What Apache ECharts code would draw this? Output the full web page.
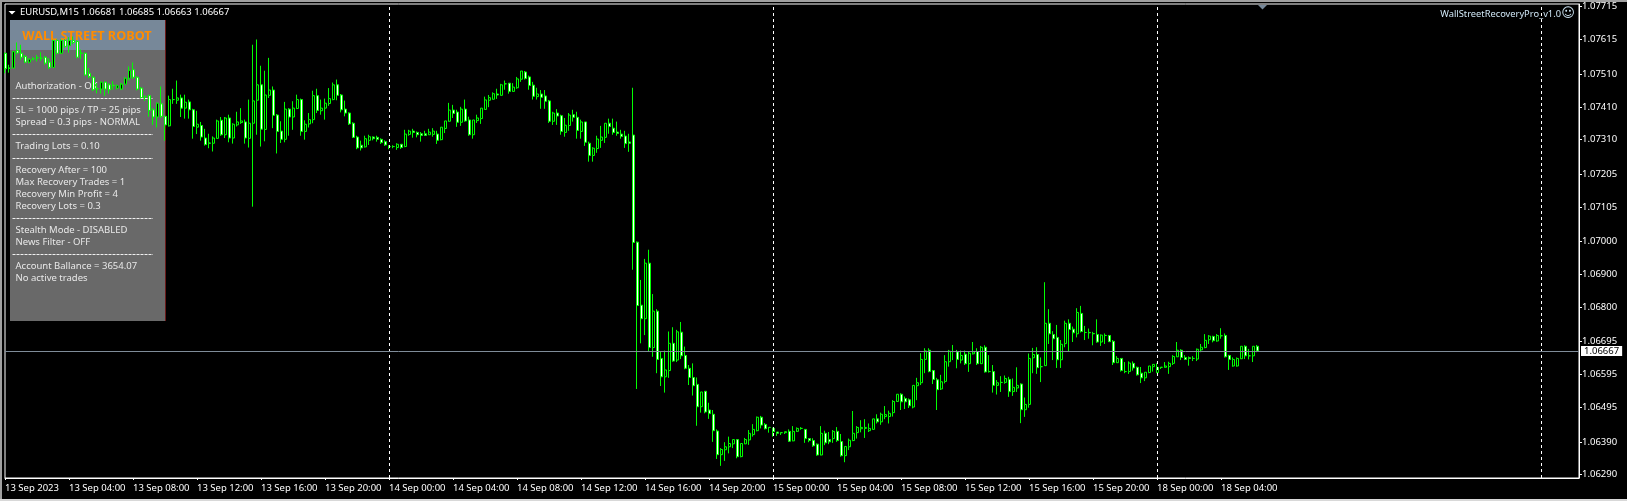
<!DOCTYPE html>
<html><head><meta charset="utf-8">
<style>html,body{margin:0;padding:0;background:#000}#c{width:1627px;height:501px}</style>
<script src="https://cdn.jsdelivr.net/npm/echarts@6/dist/echarts.min.js"></script>
</head><body><div id="c"></div>
<script>
const opens=[
1.07573,1.07527,1.07528,1.07581,1.07573,1.07563,1.07546,1.07556,1.07559,1.07558,
1.07561,1.07546,1.07530,1.07612,1.07573,1.07612,1.07596,1.07612,1.07609,1.07573,
1.07573,1.07512,1.07500,1.07465,1.07464,1.07485,1.07477,1.07476,1.07467,1.07464,
1.07479,1.07497,1.07523,1.07500,1.07467,1.07441,1.07444,1.07401,1.07379,1.07419,
1.07381,1.07352,1.07432,1.07430,1.07437,1.07406,1.07425,1.07401,1.07348,1.07353,
1.07315,1.07300,1.07299,1.07314,1.07369,1.07325,1.07376,1.07315,1.07355,1.07362,
1.07364,1.07314,1.07360,1.07430,1.07477,1.07341,1.07445,1.07461,1.07385,1.07336,
1.07311,1.07403,1.07379,1.07405,1.07432,1.07335,1.07358,1.07371,1.07444,1.07398,
1.07406,1.07420,1.07432,1.07477,1.07446,1.07403,1.07391,1.07360,1.07318,1.07293,
1.07288,1.07308,1.07318,1.07317,1.07311,1.07304,1.07289,1.07289,1.07286,1.07296,
1.07289,1.07326,1.07336,1.07332,1.07328,1.07328,1.07325,1.07326,1.07327,1.07310,
1.07344,1.07366,1.07400,1.07394,1.07363,1.07403,1.07370,1.07325,1.07368,1.07374,
1.07402,1.07430,1.07433,1.07449,1.07445,1.07480,1.07482,1.07457,1.07468,1.07494,
1.07516,1.07501,1.07476,1.07441,1.07449,1.07443,1.07428,1.07366,1.07391,1.07383,
1.07332,1.07353,1.07386,1.07378,1.07335,1.07364,1.07299,1.07262,1.07283,1.07308,
1.07317,1.07360,1.07345,1.07333,1.07327,1.07321,1.07303,1.07324,1.06998,1.06806,
1.06765,1.06934,1.06677,1.06788,1.06644,1.06588,1.06607,1.06690,1.06639,1.06724,
1.06653,1.06614,1.06586,1.06565,1.06497,1.06544,1.06487,1.06474,1.06423,1.06351,
1.06366,1.06375,1.06384,1.06397,1.06345,1.06384,1.06396,1.06412,1.06424,1.06465,
1.06443,1.06434,1.06431,1.06420,1.06418,1.06418,1.06422,1.06393,1.06422,1.06431,
1.06428,1.06400,1.06394,1.06383,1.06350,1.06416,1.06397,1.06400,1.06422,1.06391,
1.06348,1.06375,1.06394,1.06418,1.06430,1.06431,1.06424,1.06428,1.06460,1.06451,
1.06467,1.06467,1.06479,1.06513,1.06535,1.06522,1.06518,1.06496,1.06561,1.06570,
1.06641,1.06669,1.06607,1.06579,1.06551,1.06574,1.06634,1.06665,1.06664,1.06639,
1.06657,1.06628,1.06658,1.06665,1.06628,1.06678,1.06604,1.06604,1.06562,1.06571,
1.06571,1.06580,1.06543,1.06554,1.06566,1.06488,1.06504,1.06646,1.06656,1.06619,
1.06622,1.06751,1.06717,1.06708,1.06640,1.06689,1.06751,1.06733,1.06719,1.06781,
1.06723,1.06723,1.06720,1.06717,1.06694,1.06714,1.06714,1.06696,1.06631,1.06644,
1.06604,1.06604,1.06629,1.06617,1.06599,1.06585,1.06601,1.06619,1.06601,1.06617,
1.06617,1.06619,1.06629,1.06649,1.06669,1.06647,1.06646,1.06644,1.06642,1.06670,
1.06677,1.06701,1.06711,1.06697,1.06713,1.06714,1.06653,1.06621,1.06621,1.06643,
1.06681,1.06652,1.06652,1.06681];
const closes=[
1.07526,1.07528,1.07578,1.07574,1.07561,1.07546,1.07555,1.07556,1.07560,1.07558,
1.07543,1.07530,1.07612,1.07573,1.07612,1.07594,1.07612,1.07606,1.07561,1.07573,
1.07507,1.07502,1.07462,1.07465,1.07485,1.07464,1.07462,1.07474,1.07474,1.07479,
1.07497,1.07521,1.07500,1.07464,1.07438,1.07441,1.07399,1.07379,1.07421,1.07381,
1.07355,1.07432,1.07432,1.07437,1.07406,1.07424,1.07401,1.07350,1.07357,1.07318,
1.07295,1.07299,1.07315,1.07367,1.07325,1.07376,1.07315,1.07357,1.07364,1.07367,
1.07315,1.07360,1.07428,1.07477,1.07342,1.07446,1.07461,1.07384,1.07335,1.07311,
1.07403,1.07379,1.07406,1.07432,1.07335,1.07357,1.07371,1.07444,1.07399,1.07406,
1.07421,1.07435,1.07477,1.07445,1.07401,1.07391,1.07358,1.07317,1.07285,1.07285,
1.07313,1.07319,1.07313,1.07311,1.07301,1.07294,1.07289,1.07289,1.07296,1.07286,
1.07327,1.07336,1.07332,1.07325,1.07323,1.07323,1.07333,1.07336,1.07308,1.07348,
1.07367,1.07400,1.07390,1.07363,1.07403,1.07367,1.07325,1.07370,1.07376,1.07406,
1.07431,1.07438,1.07450,1.07446,1.07477,1.07480,1.07457,1.07470,1.07495,1.07519,
1.07496,1.07475,1.07442,1.07449,1.07439,1.07427,1.07366,1.07391,1.07382,1.07335,
1.07354,1.07385,1.07378,1.07338,1.07364,1.07302,1.07262,1.07284,1.07312,1.07318,
1.07360,1.07350,1.07332,1.07329,1.07320,1.07298,1.07299,1.06997,1.06805,1.06765,
1.06934,1.06677,1.06788,1.06641,1.06588,1.06609,1.06690,1.06636,1.06725,1.06652,
1.06614,1.06586,1.06561,1.06497,1.06542,1.06481,1.06476,1.06424,1.06351,1.06367,
1.06375,1.06385,1.06397,1.06345,1.06385,1.06397,1.06416,1.06428,1.06465,1.06441,
1.06430,1.06434,1.06421,1.06416,1.06418,1.06421,1.06392,1.06422,1.06431,1.06431,
1.06400,1.06394,1.06378,1.06350,1.06416,1.06387,1.06390,1.06422,1.06394,1.06348,
1.06376,1.06395,1.06416,1.06434,1.06434,1.06434,1.06431,1.06460,1.06451,1.06474,
1.06473,1.06477,1.06513,1.06535,1.06512,1.06512,1.06500,1.06562,1.06570,1.06641,
1.06667,1.06604,1.06580,1.06549,1.06573,1.06634,1.06666,1.06665,1.06641,1.06653,
1.06628,1.06660,1.06664,1.06628,1.06678,1.06603,1.06604,1.06562,1.06570,1.06571,
1.06583,1.06543,1.06556,1.06562,1.06488,1.06504,1.06644,1.06656,1.06616,1.06619,
1.06751,1.06719,1.06704,1.06640,1.06687,1.06751,1.06732,1.06722,1.06784,1.06726,
1.06723,1.06722,1.06719,1.06694,1.06715,1.06714,1.06695,1.06631,1.06644,1.06607,
1.06604,1.06630,1.06615,1.06594,1.06585,1.06602,1.06621,1.06626,1.06617,1.06617,
1.06621,1.06629,1.06650,1.06669,1.06647,1.06641,1.06644,1.06644,1.06672,1.06678,
1.06699,1.06712,1.06698,1.06714,1.06713,1.06649,1.06641,1.06641,1.06644,1.06681,
1.06652,1.06652,1.06681,1.06667];
const lows=[
1.07512,1.07514,1.07528,1.07570,1.07553,1.07543,1.07543,1.07551,1.07548,1.07550,
1.07538,1.07525,1.07530,1.07570,1.07571,1.07590,1.07575,1.07600,1.07558,1.07555,
1.07505,1.07497,1.07458,1.07451,1.07450,1.07443,1.07450,1.07462,1.07463,1.07461,
1.07477,1.07490,1.07495,1.07460,1.07436,1.07428,1.07380,1.07355,1.07347,1.07376,
1.07307,1.07350,1.07419,1.07419,1.07379,1.07374,1.07374,1.07313,1.07327,1.07307,
1.07292,1.07284,1.07274,1.07313,1.07322,1.07315,1.07302,1.07298,1.07350,1.07358,
1.07298,1.07286,1.07106,1.07325,1.07289,1.07305,1.07437,1.07345,1.07268,1.07300,
1.07302,1.07322,1.07340,1.07403,1.07322,1.07310,1.07347,1.07360,1.07391,1.07386,
1.07371,1.07413,1.07430,1.07430,1.07393,1.07381,1.07355,1.07315,1.07281,1.07277,
1.07286,1.07294,1.07308,1.07304,1.07297,1.07291,1.07281,1.07284,1.07279,1.07282,
1.07287,1.07322,1.07316,1.07317,1.07304,1.07322,1.07324,1.07319,1.07297,1.07308,
1.07330,1.07365,1.07376,1.07349,1.07352,1.07365,1.07322,1.07313,1.07361,1.07358,
1.07401,1.07409,1.07432,1.07434,1.07444,1.07462,1.07450,1.07456,1.07465,1.07486,
1.07493,1.07462,1.07432,1.07432,1.07404,1.07404,1.07361,1.07355,1.07355,1.07325,
1.07319,1.07337,1.07365,1.07313,1.07313,1.07291,1.07243,1.07243,1.07270,1.07285,
1.07300,1.07328,1.07325,1.07322,1.07313,1.07285,1.07273,1.06914,1.06551,1.06690,
1.06715,1.06665,1.06649,1.06599,1.06560,1.06540,1.06585,1.06634,1.06633,1.06642,
1.06611,1.06563,1.06531,1.06439,1.06479,1.06477,1.06460,1.06390,1.06338,1.06317,
1.06332,1.06355,1.06371,1.06340,1.06343,1.06383,1.06381,1.06406,1.06422,1.06431,
1.06428,1.06418,1.06406,1.06408,1.06411,1.06414,1.06390,1.06392,1.06420,1.06427,
1.06387,1.06389,1.06375,1.06348,1.06349,1.06380,1.06383,1.06387,1.06390,1.06345,
1.06328,1.06365,1.06392,1.06400,1.06419,1.06402,1.06420,1.06427,1.06446,1.06442,
1.06459,1.06446,1.06467,1.06512,1.06487,1.06490,1.06493,1.06492,1.06517,1.06563,
1.06599,1.06602,1.06566,1.06487,1.06548,1.06568,1.06619,1.06639,1.06614,1.06629,
1.06624,1.06603,1.06656,1.06624,1.06627,1.06601,1.06601,1.06540,1.06534,1.06542,
1.06567,1.06527,1.06530,1.06542,1.06447,1.06466,1.06494,1.06599,1.06597,1.06572,
1.06621,1.06688,1.06639,1.06615,1.06615,1.06678,1.06665,1.06694,1.06708,1.06723,
1.06700,1.06704,1.06684,1.06692,1.06682,1.06688,1.06694,1.06624,1.06630,1.06604,
1.06599,1.06597,1.06607,1.06592,1.06569,1.06575,1.06599,1.06604,1.06599,1.06612,
1.06616,1.06597,1.06624,1.06648,1.06639,1.06639,1.06622,1.06636,1.06636,1.06663,
1.06675,1.06688,1.06693,1.06695,1.06704,1.06647,1.06609,1.06619,1.06619,1.06642,
1.06642,1.06641,1.06633,1.06663];
const highs=[
1.07575,1.07538,1.07580,1.07606,1.07599,1.07568,1.07558,1.07561,1.07568,1.07576,
1.07565,1.07558,1.07614,1.07615,1.07615,1.07616,1.07622,1.07624,1.07612,1.07584,
1.07575,1.07528,1.07503,1.07482,1.07487,1.07487,1.07482,1.07488,1.07478,1.07483,
1.07500,1.07533,1.07545,1.07503,1.07470,1.07445,1.07447,1.07406,1.07423,1.07472,
1.07383,1.07444,1.07465,1.07490,1.07447,1.07447,1.07432,1.07404,1.07398,1.07364,
1.07343,1.07328,1.07320,1.07371,1.07379,1.07379,1.07386,1.07360,1.07395,1.07406,
1.07371,1.07432,1.07599,1.07615,1.07535,1.07520,1.07559,1.07472,1.07388,1.07366,
1.07425,1.07406,1.07427,1.07447,1.07435,1.07369,1.07391,1.07459,1.07465,1.07432,
1.07435,1.07467,1.07484,1.07493,1.07449,1.07429,1.07393,1.07363,1.07322,1.07307,
1.07322,1.07325,1.07320,1.07322,1.07314,1.07308,1.07293,1.07293,1.07299,1.07296,
1.07340,1.07340,1.07343,1.07335,1.07333,1.07337,1.07343,1.07345,1.07337,1.07348,
1.07367,1.07422,1.07416,1.07401,1.07410,1.07432,1.07380,1.07370,1.07386,1.07406,
1.07441,1.07446,1.07454,1.07465,1.07480,1.07490,1.07482,1.07482,1.07501,1.07519,
1.07519,1.07505,1.07486,1.07468,1.07461,1.07461,1.07431,1.07395,1.07403,1.07386,
1.07376,1.07391,1.07401,1.07395,1.07371,1.07364,1.07304,1.07287,1.07322,1.07352,
1.07360,1.07374,1.07374,1.07365,1.07340,1.07337,1.07328,1.07468,1.07000,1.06883,
1.06947,1.06975,1.06840,1.06794,1.06665,1.06668,1.06726,1.06739,1.06731,1.06755,
1.06680,1.06624,1.06629,1.06586,1.06542,1.06544,1.06509,1.06487,1.06428,1.06371,
1.06389,1.06406,1.06397,1.06397,1.06385,1.06402,1.06426,1.06444,1.06467,1.06469,
1.06447,1.06434,1.06433,1.06420,1.06418,1.06421,1.06428,1.06438,1.06434,1.06435,
1.06428,1.06401,1.06401,1.06385,1.06438,1.06424,1.06420,1.06426,1.06435,1.06414,
1.06376,1.06400,1.06484,1.06438,1.06456,1.06459,1.06446,1.06460,1.06474,1.06479,
1.06499,1.06485,1.06517,1.06535,1.06538,1.06528,1.06522,1.06562,1.06585,1.06660,
1.06675,1.06675,1.06609,1.06585,1.06594,1.06654,1.06670,1.06685,1.06670,1.06668,
1.06668,1.06664,1.06694,1.06675,1.06682,1.06684,1.06654,1.06624,1.06578,1.06590,
1.06592,1.06588,1.06583,1.06617,1.06568,1.06525,1.06659,1.06676,1.06678,1.06647,
1.06876,1.06794,1.06727,1.06746,1.06700,1.06759,1.06763,1.06741,1.06797,1.06804,
1.06743,1.06735,1.06725,1.06763,1.06717,1.06720,1.06714,1.06700,1.06651,1.06644,
1.06633,1.06635,1.06635,1.06619,1.06618,1.06602,1.06621,1.06627,1.06629,1.06617,
1.06633,1.06634,1.06654,1.06694,1.06672,1.06654,1.06650,1.06651,1.06674,1.06688,
1.06718,1.06715,1.06713,1.06718,1.06736,1.06720,1.06655,1.06647,1.06647,1.06681,
1.06684,1.06673,1.06681,1.06685];
const priceTicks=[1.07715,1.07615,1.0751,1.0741,1.0731,1.07205,1.07105,1.07,1.069,1.068,1.06695,1.06595,1.06495,1.0639,1.0629];
const timeLabels=['13 Sep 2023','13 Sep 04:00','13 Sep 08:00','13 Sep 12:00','13 Sep 16:00','13 Sep 20:00',
'14 Sep 00:00','14 Sep 04:00','14 Sep 08:00','14 Sep 12:00','14 Sep 16:00','14 Sep 20:00',
'15 Sep 00:00','15 Sep 04:00','15 Sep 08:00','15 Sep 12:00','15 Sep 16:00','15 Sep 20:00',
'18 Sep 00:00','18 Sep 04:00'];
const BARS_PER_LABEL=16;
const sessionBreaks=[96,192,288,384];
const currentPrice=1.06667;
const chartTitle='EURUSD,M15 1.06681 1.06685 1.06663 1.06667';
const eaName='WallStreetRecoveryPro_v1.0';
const panelTitle='WALL STREET ROBOT';
const panelRows=['Authorization - OK','-','SL = 1000 pips / TP = 25 pips','Spread = 0.3 pips - NORMAL','-','Trading Lots = 0.10','-','Recovery After = 100','Max Recovery Trades = 1','Recovery Min Profit = 4','Recovery Lots = 0.3','-','Stealth Mode - DISABLED','News Filter - OFF','-','Account Ballance = 3654.07','No active trades'];

const FONT='"Noto Sans"';const FS=9.5;
const candles=opens.map((o,i)=>[i,o,closes[i],lows[i],highs[i]]);
const tickPos=timeLabels.map((_,i)=>i*BARS_PER_LABEL);
const gfx=[
 {type:'rect',shape:{x:0,y:0,width:1627,height:2},style:{fill:'#a0a0a0'},z:0},
 {type:'rect',shape:{x:0,y:0,width:2,height:501},style:{fill:'#a0a0a0'},z:0},
 {type:'rect',shape:{x:0,y:499,width:1627,height:2},style:{fill:'#d8d8d8'},z:0},
 {type:'rect',shape:{x:10,y:20,width:156,height:30},style:{fill:'#778899'},z:0},
 {type:'rect',shape:{x:10,y:50,width:156,height:271},style:{fill:'#696969'},z:0},
 {type:'rect',shape:{x:165,y:20,width:1,height:301},style:{fill:'#6b1a1a'},z:0},
 {type:'text',style:{x:87,y:36,text:panelTitle,fill:'#ff8c00',font:'bold 12.7px "Noto Sans"',textAlign:'center',textVerticalAlign:'middle'},z:0},
 {type:'polygon',shape:{points:[[8.5,11],[15.5,11],[12,14.5]]},style:{fill:'#fff'},z:5},
 {type:'text',style:{x:20,y:12.5,text:chartTitle,fill:'#fff',font:FS+'px '+FONT,textVerticalAlign:'middle'},z:5},
 {type:'polygon',shape:{points:[[1258,5],[1267,5],[1262.5,9.5]]},style:{fill:'#778899'},z:5},
 {type:'text',style:{x:1561,y:14.5,text:eaName,fill:'#cfe6f5',font:'9.3px '+FONT,textAlign:'right',textVerticalAlign:'middle'},z:5},
 {type:'text',style:{x:1568,y:14,text:'\u263A',fill:'#cfe6f5',font:'13px "DejaVu Sans"',textAlign:'center',textVerticalAlign:'middle'},z:5}
];
panelRows.forEach((t,i)=>{
 const y=86+12*i;
 if(t==='-') gfx.push({type:'line',shape:{x1:12.5,y1:y+.5,x2:153,y2:y+.5},style:{stroke:'#f0f0f0',lineWidth:1,lineDash:[3,1]},z:0});
 else gfx.push({type:'text',style:{x:15.5,y:y,text:t,fill:'#e8e8e8',font:FS+'px '+FONT,textVerticalAlign:'middle'},z:0});
});
const chart=echarts.init(document.getElementById('c'),null,{renderer:'canvas'});
chart.setOption({
 animation:false,backgroundColor:'#000',
 grid:{left:5,top:4,width:1574,height:474,show:true,borderColor:'#fff',borderWidth:1,backgroundColor:'transparent'},
 xAxis:{type:'value',min:0,max:393.5,position:'bottom',splitLine:{show:false},
  axisLine:{show:true,onZero:false,lineStyle:{color:'#fff'}},
  axisTick:{show:true,length:2,lineStyle:{color:'#fff'},customValues:tickPos},
  axisLabel:{show:true,customValues:tickPos,color:'#fff',fontFamily:FONT,fontSize:FS,align:'left',margin:5,hideOverlap:false,
   formatter:v=>timeLabels[Math.round(v/BARS_PER_LABEL)]||''}},
 yAxis:{type:'value',min:1.0628,max:1.07723,position:'right',scale:true,splitLine:{show:false},
  axisLine:{show:true,onZero:false,lineStyle:{color:'#fff'}},
  axisTick:{show:true,length:3,lineStyle:{color:'#fff'},customValues:priceTicks},
  axisLabel:{show:true,customValues:priceTicks,color:'#fff',fontFamily:FONT,fontSize:FS,margin:3,hideOverlap:false,
   formatter:v=>v.toFixed(5)}},
 series:[{type:'candlestick',data:candles,barWidth:2.5,clip:false,
  itemStyle:{color:'#000',color0:'#fff',borderColor:'#00ff00',borderColor0:'#00ff00',borderWidth:1},
  markLine:{silent:true,symbol:'none',animation:false,precision:5,
   data:[
    ...sessionBreaks.map(k=>({xAxis:k,label:{show:false},lineStyle:{color:'#fff',type:[3,3],width:1}})),
    {yAxis:currentPrice,lineStyle:{color:'#7f8c99',type:'solid',width:1},
     label:{show:true,position:'end',formatter:currentPrice.toFixed(5),color:'#000',backgroundColor:'#fff',fontFamily:FONT,fontSize:FS,padding:[0,3,0,3],distance:2}}
   ]}
 }],
 graphic:gfx
});
</script></body></html>
